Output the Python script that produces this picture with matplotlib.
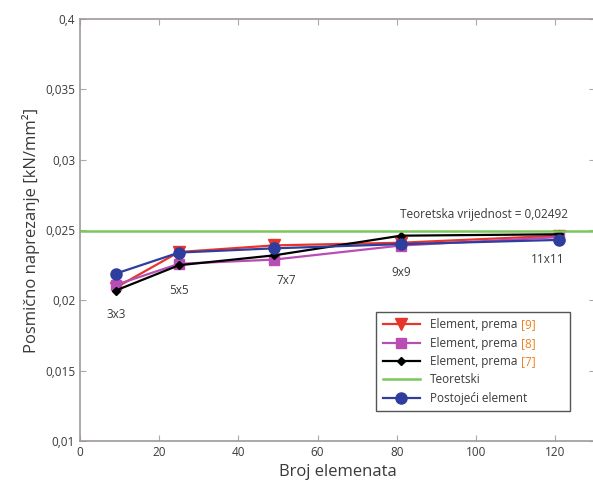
import numpy as np
import matplotlib
matplotlib.use("Agg")
import matplotlib.pyplot as plt

plt.rcParams['font.family'] = ['Open Sans', 'DejaVu Sans']

# broj elemenata u mrezi
n_elem = [9, 25, 49, 81, 121]
mreza = ["3x3", "5x5", "7x7", "9x9", "11x11"]

# posmicno naprezanje [kN/mm2]
prema_9 = [0.0209, 0.02344, 0.02391, 0.0241, 0.0246]
prema_8 = [0.0211, 0.0226, 0.0229, 0.0239, 0.0245]
prema_7 = [0.0207, 0.0225, 0.0232, 0.0246, 0.0247]
postojeci = [0.0219, 0.0234, 0.0237, 0.0240, 0.0243]
teoretski = 0.02492

# polozaj oznaka mreze
oznaka_x = [9, 25, 52, 81, 118]
oznaka_y = [0.01896, 0.0207, 0.0214, 0.0220, 0.0229]

y_ticks = [0.01, 0.015, 0.02, 0.025, 0.03, 0.035, 0.04]
y_tick_labels = ["0,01", "0,015", "0,02", "0,025", "0,03", "0,035", "0,4"]
x_ticks = [0, 20, 40, 60, 80, 100, 120]

txt = "#3a3a3a"
fig = plt.figure(figsize=(5.93, 4.9), dpi=100)
ax = fig.add_axes([0.135, 0.1, 0.868, 0.861])

ax.plot(n_elem, prema_9, color="#e8352b", lw=1.6, marker="v", ms=8, label="Element, prema")
ax.plot(n_elem, prema_8, color="#b84eb3", lw=1.6, marker="s", ms=7, label="Element, prema")
ax.plot(n_elem, prema_7, color="black", lw=1.6, marker="D", ms=4, label="Element, prema")
ax.axhline(teoretski, color="#7dc65a", lw=1.8, label="Teoretski")
ax.plot(n_elem, postojeci, color="#2f3d9c", lw=1.6, marker="o", ms=8, label="Postojeći element")

for xx, yy, s in zip(oznaka_x, oznaka_y, mreza):
    ax.text(xx, yy, s, ha="center", va="center", fontsize=8.5, color=txt)
ax.text(102, 0.0261, "Teoretska vrijednost = 0,02492", ha="center", va="center",
        fontsize=8.5, color=txt)

ax.set_xlim(0, 130)
ax.set_ylim(0.01, 0.04)
ax.set_xticks(x_ticks)
ax.set_yticks(y_ticks)
ax.set_yticklabels(y_tick_labels)
ax.tick_params(direction="in", top=True, right=True, length=4, color="#aaaaaa",
               labelsize=8.5, labelcolor=txt)
for sp in ax.spines.values():
    sp.set_color("#a09a98")
    sp.set_linewidth(1.2)

ax.set_xlabel("Broj elemenata", fontsize=12, color=txt)
ax.set_ylabel("Posmično naprezanje [kN/mm²]", fontsize=12, color=txt)

leg = ax.legend(loc="upper left", bbox_to_anchor=(0.575, 0.306, 0.377, 0.0),
                mode="expand", borderaxespad=0, fontsize=8.5,
                fancybox=False, framealpha=1, edgecolor="#555555",
                handlelength=3.2, borderpad=0.55, labelspacing=0.45)
leg.get_frame().set_linewidth(1.0)
refs = ["[9]", "[8]", "[7]"]
texts = leg.get_texts()
for t in texts:
    t.set_color(txt)
for t, r in zip(texts[:3], refs):
    ax.annotate(r, xy=(1, 0), xycoords=t, xytext=(2.5, 0), textcoords="offset points",
                ha="left", va="bottom", fontsize=8.5, color="#f07f1e", zorder=10)

fig.savefig("out.png", dpi=100)
